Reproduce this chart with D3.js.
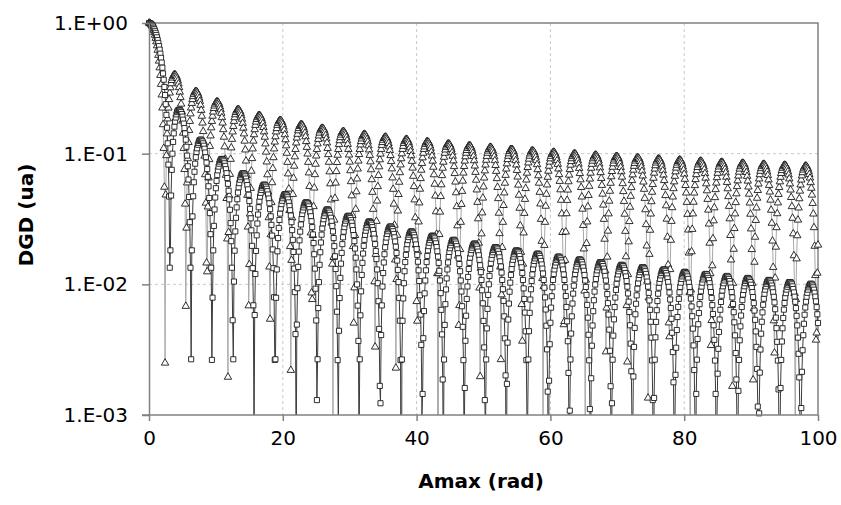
<!DOCTYPE html>
<html lang="en">
<head>
<meta charset="UTF-8">
<title>DGD vs Amax</title>
<script src="https://d3js.org/d3.v7.min.js"></script>
<style>
  body { margin: 0; background: #fff; }
  text { font-family: "DejaVu Sans", sans-serif; fill: #000; }
</style>
</head>
<body>
<script>
// Amax sampling (rad): 0 to 100 every 0.1
// the *Even arrays hold Amax = 0, 0.2, 0.4 ... 100, the *Odd arrays Amax = 0.1, 0.3 ... 99.9
var amaxStep = 0.1, amaxCount = 1001;
var amax = d3.range(amaxCount).map(function (i) { return +(i * amaxStep).toFixed(1); });

var xTicks = [0, 20, 40, 60, 80, 100];
var yTicks = [1, 0.1, 0.01, 0.001];
var yTickLabels = ["1.E+00", "1.E-01", "1.E-02", "1.E-03"];

// triangle series
var triEven = [
  1, 0.990, 0.960, 0.912, 0.846, 0.765, 0.671, 0.567, 0.455, 0.340, 0.224, 0.110, 0.0025, 0.0968, 0.185, 0.260,
  0.320, 0.364, 0.392, 0.403, 0.397, 0.377, 0.342, 0.296, 0.240, 0.178, 0.110, 0.0412, 0.0270, 0.0917, 0.151,
  0.202, 0.243, 0.274, 0.293, 0.300, 0.295, 0.279, 0.252, 0.215, 0.172, 0.122, 0.0692, 0.0146, 0.0392, 0.0903,
  0.137, 0.177, 0.209, 0.232, 0.246,
  0.250, 0.244, 0.228, 0.204, 0.172, 0.134, 0.0910, 0.0455,
  0.00195, 0.0477, 0.0907, 0.129, 0.162, 0.189, 0.207, 0.217, 0.218, 0.210, 0.195, 0.171, 0.142, 0.107, 0.0683, 0.0275,
  0.0142, 0.0544, 0.0919, 0.125, 0.153, 0.175, 0.189, 0.196, 0.195, 0.186, 0.170, 0.147, 0.119, 0.0866, 0.0509, 0.0136,
  0.0240, 0.0601, 0.0934, 0.123, 0.147, 0.165, 0.176, 0.180, 0.177, 0.167, 0.151, 0.128, 0.101, 0.0702, 0.0368, 0.00220,
  0.0323, 0.0650, 0.0948, 0.121, 0.141, 0.156, 0.165, 0.167, 0.163, 0.152, 0.135, 0.112, 0.0860, 0.0563, 0.0248,
  0.00767, 0.0394, 0.0693, 0.0962, 0.119, 0.137, 0.150, 0.156, 0.156, 0.150, 0.138, 0.121, 0.0986, 0.0728, 0.0444, 0.0143,
  0.0161, 0.0456, 0.0731, 0.0975, 0.118, 0.133, 0.144, 0.148, 0.146, 0.139, 0.126, 0.108, 0.0864, 0.0612, 0.0337, 0.00506,
  0.0237, 0.0512, 0.0765, 0.0987, 0.117, 0.130, 0.138, 0.141, 0.138, 0.129, 0.115, 0.0973, 0.0755, 0.0507, 0.0241,
  0.00332, 0.0304, 0.0561, 0.0795, 0.0995, 0.116, 0.127, 0.133, 0.134, 0.129, 0.120, 0.106, 0.0872, 0.0654, 0.0412, 0.0154,
  0.0109, 0.0365, 0.0606, 0.0822, 0.100, 0.114, 0.124, 0.128, 0.128, 0.122, 0.111, 0.0965, 0.0778, 0.0561, 0.0324, 0.00740,
  0.0178, 0.0421, 0.0646, 0.0844, 0.101, 0.113, 0.121, 0.124, 0.122, 0.115, 0.103, 0.0879, 0.0691, 0.0475, 0.0242,
  0.00002, 0.0241, 0.0471, 0.0681, 0.0863, 0.101, 0.112, 0.118, 0.119, 0.116, 0.108, 0.0957, 0.0798, 0.0608, 0.0394, 0.0165,
  0.00689, 0.0299, 0.0516, 0.0712, 0.0879, 0.101, 0.110, 0.115, 0.115, 0.110, 0.101, 0.0885, 0.0721, 0.0529, 0.0318, 0.00939,
  0.0133, 0.0353, 0.0558, 0.0740, 0.0893, 0.101, 0.108, 0.112, 0.110, 0.105, 0.0949, 0.0814, 0.0646, 0.0454, 0.0245, 0.00266,
  0.0192, 0.0402, 0.0596, 0.0765, 0.0903, 0.100, 0.107, 0.108, 0.106, 0.0992, 0.0886, 0.0746, 0.0576, 0.0383, 0.0176,
  0.00368, 0.0248, 0.0448, 0.0630, 0.0786, 0.0910, 0.0998, 0.105, 0.105, 0.102, 0.0939, 0.0826, 0.0679, 0.0507, 0.0315, 0.0111,
  0.00965, 0.0299, 0.0490, 0.0661, 0.0804, 0.0915, 0.0989, 0.102, 0.102, 0.0971, 0.0886, 0.0765, 0.0615, 0.0441, 0.0250, 0.00492,
  0.0153, 0.0348, 0.0528, 0.0687, 0.0819, 0.0917, 0.0978, 0.100, 0.0983, 0.0926, 0.0833, 0.0706, 0.0552, 0.0377, 0.0187,
  0.00099, 0.0206, 0.0393, 0.0564, 0.0711, 0.0831, 0.0916, 0.0965, 0.0975, 0.0947, 0.0881, 0.0780, 0.0648, 0.0491, 0.0315, 0.0127,
  0.00660, 0.0256, 0.0434, 0.0595, 0.0732, 0.0839, 0.0913, 0.0950, 0.0949, 0.0910, 0.0835, 0.0728, 0.0591, 0.0432, 0.0255, 0.00689,
  0.0119, 0.0303, 0.0473, 0.0624, 0.0750, 0.0845, 0.0907, 0.0933, 0.0922, 0.0873, 0.0790, 0.0676, 0.0535, 0.0373, 0.0197, 0.00135,
  0.0170, 0.0346, 0.0508, 0.0650, 0.0765, 0.0850, 0.0899, 0.0914, 0.0892, 0.0835, 0.0743, 0.0624, 0.0479, 0.0316, 0.0141,
  0.00398, 0.0218, 0.0387, 0.0541, 0.0673, 0.0777, 0.0850, 0.0890, 0.0893, 0.0861, 0.0795, 0.0698, 0.0572, 0.0425, 0.0261, 0.00865,
  0.00907, 0.0264, 0.0426, 0.0571, 0.0693, 0.0786, 0.0849, 0.0877, 0.0870, 0.0829, 0.0755, 0.0651, 0.0521, 0.0371, 0.0207, 0.00341,
  0.0139, 0.0307, 0.0462, 0.0597, 0.0709, 0.0793, 0.0844, 0.0862, 0.0846, 0.0795, 0.0714, 0.0604, 0.0470, 0.0318, 0.0154,
  0.00166, 0.0186, 0.0347, 0.0494, 0.0621, 0.0724, 0.0797, 0.0838, 0.0846, 0.0820, 0.0761, 0.0672, 0.0557, 0.0420, 0.0266, 0.0102,
  0.00652, 0.0230, 0.0385, 0.0524, 0.0642, 0.0735, 0.0798, 0.0829, 0.0827, 0.0792, 0.0725, 0.0630, 0.0510, 0.0370, 0.0215, 0.00527,
  0.0112, 0.0272, 0.0421, 0.0552, 0.0661, 0.0744, 0.0797, 0.0818, 0.0807, 0.0763, 0.0689, 0.0588, 0.0463, 0.0321, 0.0166, 0.00043,
  0.0157, 0.0311, 0.0453, 0.0577, 0.0678, 0.0751, 0.0794, 0.0805, 0.0784, 0.0733, 0.0652, 0.0545, 0.0417, 0.0272, 0.0117,
  0.00425, 0.0200
];
var triOdd = [
  0.998, 0.978, 0.939, 0.881, 0.808, 0.720, 0.620, 0.512, 0.398, 0.282, 0.167, 0.0555, 0.0484, 0.142, 0.224, 0.292,
  0.344, 0.380, 0.399, 0.402, 0.389, 0.361, 0.321, 0.269, 0.210, 0.144, 0.0758, 0.0068, 0.0599, 0.122, 0.177,
  0.224, 0.260, 0.285, 0.298, 0.299, 0.288, 0.266, 0.235, 0.194, 0.148, 0.0960, 0.0419, 0.0125, 0.0653, 0.114,
  0.158, 0.194, 0.222, 0.240,
  0.249, 0.248, 0.237, 0.217, 0.189, 0.153, 0.113, 0.0685, 0.0223,
  0.0250, 0.0696, 0.111, 0.147, 0.177, 0.199, 0.213, 0.218, 0.215, 0.204, 0.184, 0.157, 0.125, 0.0880, 0.0481, 0.00686,
  0.0346, 0.0736, 0.109, 0.140, 0.165, 0.183, 0.194, 0.196, 0.191, 0.179, 0.159, 0.134, 0.103, 0.0691, 0.0324,
  0.00542, 0.0423, 0.0771, 0.109, 0.135, 0.156, 0.171, 0.179, 0.180, 0.173, 0.160, 0.140, 0.115, 0.0860, 0.0537, 0.0195,
  0.0153, 0.0489, 0.0804, 0.108, 0.132, 0.150, 0.162, 0.167, 0.166, 0.158, 0.144, 0.124, 0.0996, 0.0714, 0.0407, 0.00861,
  0.0237, 0.0547, 0.0832, 0.108, 0.129, 0.144, 0.154, 0.157, 0.154, 0.145, 0.130, 0.110, 0.0861, 0.0589, 0.0295,
  0.00099, 0.0311, 0.0597, 0.0858, 0.108, 0.126, 0.139, 0.146, 0.148, 0.143, 0.133, 0.118, 0.0979, 0.0742, 0.0477, 0.0195,
  0.00942, 0.0376, 0.0642, 0.0880, 0.108, 0.124, 0.135, 0.140, 0.140, 0.134, 0.123, 0.107, 0.0868, 0.0634, 0.0376, 0.0105,
  0.0170, 0.0435, 0.0682, 0.0900, 0.108, 0.122, 0.131, 0.134, 0.132, 0.125, 0.113, 0.0969, 0.0767, 0.0535, 0.0284, 0.00229,
  0.0238, 0.0488, 0.0717, 0.0916, 0.108, 0.120, 0.127, 0.129, 0.125, 0.117, 0.104, 0.0876, 0.0673, 0.0444, 0.0200,
  0.00524, 0.0301, 0.0536, 0.0749, 0.0931, 0.108, 0.118, 0.123, 0.123, 0.119, 0.110, 0.0961, 0.0789, 0.0585, 0.0360, 0.0121,
  0.0121, 0.0358, 0.0579, 0.0776, 0.0941, 0.107, 0.115, 0.119, 0.118, 0.112, 0.102, 0.0882, 0.0706, 0.0503, 0.0281, 0.00486,
  0.0185, 0.0410, 0.0618, 0.0800, 0.0949, 0.106, 0.113, 0.115, 0.113, 0.106, 0.0953, 0.0806, 0.0628, 0.0425, 0.0207,
  0.00197, 0.0244, 0.0458, 0.0653, 0.0821, 0.0955, 0.105, 0.111, 0.112, 0.108, 0.100, 0.0886, 0.0734, 0.0553, 0.0351, 0.0136,
  0.00833, 0.0299, 0.0502, 0.0684, 0.0838, 0.0958, 0.104, 0.108, 0.108, 0.103, 0.0944, 0.0820, 0.0664, 0.0482, 0.0281, 0.00702,
  0.0143, 0.0350, 0.0542, 0.0711, 0.0852, 0.0959, 0.103, 0.105, 0.104, 0.0981, 0.0886, 0.0756, 0.0596, 0.0413, 0.0214, 0.00074,
  0.0199, 0.0397, 0.0578, 0.0736, 0.0864, 0.0956, 0.101, 0.103, 0.0999, 0.0932, 0.0830, 0.0693, 0.0530, 0.0347, 0.0150,
  0.00521, 0.0252, 0.0440, 0.0611, 0.0757, 0.0872, 0.0952, 0.0994, 0.0997, 0.0959, 0.0884, 0.0773, 0.0632, 0.0467, 0.0283, 0.00890,
  0.0108, 0.0301, 0.0480, 0.0641, 0.0775, 0.0878, 0.0945, 0.0975, 0.0967, 0.0918, 0.0835, 0.0717, 0.0573, 0.0405, 0.0222, 0.00305,
  0.0162, 0.0347, 0.0517, 0.0667, 0.0789, 0.0881, 0.0937, 0.0954, 0.0935, 0.0878, 0.0785, 0.0663, 0.0514, 0.0345, 0.0163,
  0.00255, 0.0212, 0.0390, 0.0551, 0.0690, 0.0802, 0.0881, 0.0924, 0.0932, 0.0902, 0.0836, 0.0736, 0.0608, 0.0456, 0.0287, 0.0106,
  0.00788, 0.0260, 0.0430, 0.0582, 0.0711, 0.0811, 0.0879, 0.0912, 0.0907, 0.0867, 0.0793, 0.0687, 0.0554, 0.0400, 0.0230, 0.00508,
  0.0130, 0.0304, 0.0467, 0.0610, 0.0728, 0.0817, 0.0874, 0.0896, 0.0882, 0.0832, 0.0750, 0.0638, 0.0501, 0.0344, 0.0174,
  0.00021, 0.0178, 0.0347, 0.0501, 0.0635, 0.0743, 0.0822, 0.0867, 0.0878, 0.0854, 0.0796, 0.0706, 0.0589, 0.0448, 0.0290, 0.0121,
  0.00530, 0.0224, 0.0386, 0.0532, 0.0657, 0.0755, 0.0823, 0.0858, 0.0858, 0.0825, 0.0759, 0.0662, 0.0540, 0.0396, 0.0237, 0.00689,
  0.0102, 0.0268, 0.0423, 0.0561, 0.0676, 0.0764, 0.0821, 0.0846, 0.0837, 0.0794, 0.0720, 0.0618, 0.0491, 0.0345, 0.0185, 0.00186,
  0.0148, 0.0309, 0.0457, 0.0587, 0.0692, 0.0770, 0.0818, 0.0832, 0.0813, 0.0762, 0.0682, 0.0573, 0.0442, 0.0294, 0.0135,
  0.00299, 0.0193, 0.0348, 0.0489, 0.0610, 0.0707, 0.0775, 0.0812, 0.0816, 0.0788, 0.0729, 0.0642, 0.0528, 0.0394, 0.0244, 0.00853,
  0.00767, 0.0236, 0.0385, 0.0518, 0.0630, 0.0717, 0.0776, 0.0804, 0.0799, 0.0762, 0.0695, 0.0601, 0.0483, 0.0346, 0.0196, 0.00375,
  0.0122
];

// square series
var sqEven = [
  1, 0.993, 0.974, 0.941, 0.897, 0.841, 0.777, 0.704, 0.625, 0.541, 0.455, 0.368, 0.281, 0.198, 0.120, 0.0470,
  0.0182, 0.0752, 0.123, 0.161, 0.189, 0.208, 0.216, 0.216, 0.208, 0.192, 0.170, 0.143, 0.113, 0.0801, 0.0466, 0.0134,
  0.0182, 0.0472, 0.0727, 0.0939, 0.110, 0.121, 0.127, 0.128, 0.124, 0.115, 0.102, 0.0854, 0.0665, 0.0458, 0.0242, 0.00264,
  0.0182, 0.0374, 0.0544, 0.0686, 0.0796, 0.0870, 0.0908, 0.0909, 0.0874, 0.0806, 0.0709, 0.0588, 0.0447, 0.0294, 0.0134,
  0.00267, 0.0181, 0.0323, 0.0448, 0.0553, 0.0632, 0.0684, 0.0708, 0.0703, 0.0671, 0.0613, 0.0533, 0.0434, 0.0320, 0.0197, 0.00691,
  0.00582, 0.0180, 0.0292, 0.0389, 0.0469, 0.0528, 0.0566, 0.0580, 0.0571, 0.0539, 0.0487, 0.0417, 0.0332, 0.0236, 0.0133, 0.00264,
  0.00789, 0.0179, 0.0270, 0.0348, 0.0411, 0.0456, 0.0483, 0.0490, 0.0478, 0.0447, 0.0398, 0.0336, 0.0260, 0.0177, 0.00872,
  0.000402, 0.00934, 0.0178, 0.0253, 0.0317, 0.0368, 0.0403, 0.0422, 0.0423, 0.0408, 0.0377, 0.0332, 0.0274, 0.0207, 0.0132, 0.00529,
  0.00267, 0.0104, 0.0176, 0.0240, 0.0293, 0.0334, 0.0362, 0.0374, 0.0371, 0.0354, 0.0323, 0.0280, 0.0226, 0.0164, 0.00968, 0.00263,
  0.00441, 0.0112, 0.0174, 0.0229, 0.0274, 0.0307, 0.0328, 0.0335, 0.0329, 0.0310, 0.0280, 0.0238, 0.0188, 0.0130, 0.00687, 0.000506,
  0.00579, 0.0118, 0.0172, 0.0219, 0.0257, 0.0284, 0.0300, 0.0303, 0.0294, 0.0274, 0.0243, 0.0203, 0.0156, 0.0102, 0.00456,
  0.00123, 0.00690, 0.0122, 0.0170, 0.0211, 0.0243, 0.0264, 0.0276, 0.0276, 0.0265, 0.0243, 0.0213, 0.0174, 0.0129, 0.00788, 0.00263,
  0.00266, 0.00780, 0.0126, 0.0168, 0.0203, 0.0230, 0.0247, 0.0254, 0.0252, 0.0239, 0.0217, 0.0186, 0.0149, 0.0106, 0.00587, 0.000998,
  0.00387, 0.00853, 0.0128, 0.0165, 0.0196, 0.0218, 0.0232, 0.0236, 0.0231, 0.0216, 0.0193, 0.0163, 0.0127, 0.00856, 0.00414,
  0.000402, 0.00489, 0.00914, 0.0130, 0.0163, 0.0189, 0.0208, 0.0218, 0.0219, 0.0212, 0.0196, 0.0173, 0.0143, 0.0107, 0.00680, 0.00263,
  0.00161, 0.00575, 0.00963, 0.0131, 0.0160, 0.0183, 0.0198, 0.0205, 0.0204, 0.0195, 0.0178, 0.0154, 0.0124, 0.00901, 0.00525, 0.00130,
  0.00266, 0.00649, 0.0100, 0.0131, 0.0157, 0.0176, 0.0188, 0.0193, 0.0190, 0.0179, 0.0161, 0.0137, 0.0108, 0.00747, 0.00386, 0.000133,
  0.00358, 0.00712, 0.0103, 0.0131, 0.0154, 0.0170, 0.0180, 0.0182, 0.0177, 0.0165, 0.0146, 0.0122, 0.00931, 0.00608, 0.00263,
  0.000906, 0.00438, 0.00765, 0.0106, 0.0131, 0.0151, 0.0164, 0.0171, 0.0171, 0.0165, 0.0151, 0.0132, 0.0108, 0.00795, 0.00482, 0.00151,
  0.00183, 0.00508, 0.00811, 0.0108, 0.0130, 0.0147, 0.0158, 0.0163, 0.0161, 0.0153, 0.0139, 0.0119, 0.00950, 0.00671, 0.00367, 0.000508,
  0.00266, 0.00569, 0.00849, 0.0109, 0.0129, 0.0144, 0.0153, 0.0155, 0.0152, 0.0142, 0.0127, 0.0107, 0.00830, 0.00556, 0.00262,
  0.000402, 0.00339, 0.00623, 0.00880, 0.0110, 0.0128, 0.0140, 0.0147, 0.0148, 0.0143, 0.0132, 0.0116, 0.00959, 0.00718, 0.00450, 0.00166,
  0.00123, 0.00405, 0.00670, 0.00906, 0.0111, 0.0126, 0.0136, 0.0141, 0.0140, 0.0134, 0.0122, 0.0106, 0.00852, 0.00614, 0.00352, 0.000784,
  0.00197, 0.00464, 0.00710, 0.00927, 0.0111, 0.0124, 0.0132, 0.0135, 0.0133, 0.0126, 0.0113, 0.00960, 0.00753, 0.00517, 0.00262,
  0.0000236, 0.00265, 0.00516, 0.00745, 0.00943, 0.0110, 0.0122, 0.0128, 0.0130, 0.0126, 0.0117, 0.0104, 0.00866, 0.00659, 0.00426, 0.00178,
  0.000766, 0.00327, 0.00562, 0.00774, 0.00955, 0.0110, 0.0119, 0.0124, 0.0124, 0.0119, 0.0110, 0.00955, 0.00778, 0.00570, 0.00341, 0.000996,
  0.00145, 0.00382, 0.00603, 0.00799, 0.00962, 0.0109, 0.0117, 0.0120, 0.0119, 0.0112, 0.0102, 0.00873, 0.00693, 0.00486, 0.00261, 0.000271,
  0.00207, 0.00432, 0.00639, 0.00819, 0.00966, 0.0107, 0.0114, 0.0116, 0.0113, 0.0106, 0.00945, 0.00794, 0.00612, 0.00407, 0.00187,
  0.000402, 0.00264, 0.00477, 0.00670, 0.00835, 0.00967, 0.0106, 0.0111, 0.0111, 0.0107, 0.00993, 0.00873, 0.00718, 0.00535, 0.00332, 0.00116,
  0.00103, 0.00317, 0.00517, 0.00697, 0.00847, 0.00964, 0.0104, 0.0108, 0.0107, 0.0102, 0.00930, 0.00803, 0.00645, 0.00462, 0.00261, 0.000507,
  0.00161, 0.00365, 0.00553, 0.00719, 0.00856, 0.00958, 0.0102, 0.0104, 0.0102, 0.00965, 0.00867, 0.00735, 0.00574, 0.00391, 0.00194,
  0.000109, 0.00214, 0.00408, 0.00585, 0.00738, 0.00861, 0.00949, 0.00999, 0.0101, 0.00979, 0.00910, 0.00805, 0.00669, 0.00506
];
var sqOdd = [
  0.998, 0.985, 0.959, 0.920, 0.870, 0.810, 0.741, 0.665, 0.583, 0.498, 0.411, 0.324, 0.239, 0.158, 0.0825, 0.0134,
  0.0478, 0.100, 0.143, 0.176, 0.200, 0.213, 0.217, 0.213, 0.201, 0.182, 0.157, 0.128, 0.0966, 0.0634, 0.0299,
  0.00267, 0.0331, 0.0604, 0.0838, 0.103, 0.117, 0.125, 0.128, 0.126, 0.120, 0.109, 0.0939, 0.0762, 0.0563, 0.0351, 0.0134,
  0.00791, 0.0280, 0.0462, 0.0619, 0.0745, 0.0838, 0.0894, 0.0913, 0.0896, 0.0844, 0.0761, 0.0651, 0.0520, 0.0372, 0.0214, 0.00531,
  0.0105, 0.0254, 0.0388, 0.0504, 0.0595, 0.0661, 0.0699, 0.0709, 0.0690, 0.0645, 0.0575, 0.0485, 0.0378, 0.0259, 0.0133, 0.000510,
  0.0120, 0.0237, 0.0342, 0.0431, 0.0501, 0.0550, 0.0576, 0.0578, 0.0558, 0.0516, 0.0454, 0.0376, 0.0285, 0.0185, 0.00797,
  0.00267, 0.0130, 0.0226, 0.0311, 0.0381, 0.0436, 0.0472, 0.0489, 0.0486, 0.0464, 0.0424, 0.0369, 0.0299, 0.0219, 0.0132, 0.00416,
  0.00492, 0.0136, 0.0217, 0.0287, 0.0345, 0.0388, 0.0415, 0.0425, 0.0418, 0.0395, 0.0356, 0.0304, 0.0241, 0.0170, 0.00926, 0.00130,
  0.00658, 0.0141, 0.0209, 0.0268, 0.0315, 0.0350, 0.0370, 0.0375, 0.0365, 0.0340, 0.0303, 0.0254, 0.0196, 0.0131, 0.00617,
  0.000908, 0.00785, 0.0144, 0.0203, 0.0253, 0.0292, 0.0319, 0.0333, 0.0334, 0.0322, 0.0297, 0.0260, 0.0214, 0.0160, 0.00999, 0.00369,
  0.00267, 0.00884, 0.0146, 0.0197, 0.0239, 0.0272, 0.0293, 0.0303, 0.0300, 0.0286, 0.0260, 0.0224, 0.0180, 0.0130, 0.00743, 0.00167,
  0.00409, 0.00962, 0.0147, 0.0192, 0.0228, 0.0255, 0.0271, 0.0277, 0.0271, 0.0255, 0.0229, 0.0194, 0.0152, 0.0104, 0.00527,
  0.0000236, 0.00526, 0.0102, 0.0148, 0.0186, 0.0218, 0.0240, 0.0252, 0.0254, 0.0246, 0.0229, 0.0202, 0.0168, 0.0128, 0.00825, 0.00344,
  0.00145, 0.00624, 0.0107, 0.0148, 0.0182, 0.0208, 0.0226, 0.0235, 0.0234, 0.0225, 0.0206, 0.0179, 0.0146, 0.0107, 0.00638, 0.00187,
  0.00266, 0.00705, 0.0111, 0.0147, 0.0177, 0.0199, 0.0214, 0.0219, 0.0216, 0.0205, 0.0185, 0.0158, 0.0126, 0.00881, 0.00473, 0.000507,
  0.00370, 0.00773, 0.0114, 0.0146, 0.0172, 0.0191, 0.0202, 0.0205, 0.0200, 0.0187, 0.0167, 0.0140, 0.0108, 0.00716, 0.00329,
  0.000686, 0.00460, 0.00830, 0.0116, 0.0145, 0.0168, 0.0183, 0.0192, 0.0192, 0.0185, 0.0171, 0.0150, 0.0123, 0.00918, 0.00569, 0.00201,
  0.00173, 0.00538, 0.00878, 0.0118, 0.0143, 0.0163, 0.0176, 0.0182, 0.0180, 0.0172, 0.0156, 0.0135, 0.0108, 0.00773, 0.00437, 0.000862,
  0.00266, 0.00605, 0.00917, 0.0119, 0.0142, 0.0158, 0.0169, 0.0172, 0.0169, 0.0159, 0.0142, 0.0121, 0.00942, 0.00642, 0.00318,
  0.000163, 0.00348, 0.00663, 0.00950, 0.0120, 0.0139, 0.0154, 0.0162, 0.0163, 0.0158, 0.0147, 0.0130, 0.0108, 0.00814, 0.00521, 0.00210,
  0.00108, 0.00420, 0.00713, 0.00976, 0.0120, 0.0137, 0.0149, 0.0155, 0.0154, 0.0148, 0.0135, 0.0118, 0.00955, 0.00696, 0.00411, 0.00111,
  0.00191, 0.00484, 0.00756, 0.00996, 0.0120, 0.0135, 0.0144, 0.0148, 0.0146, 0.0138, 0.0125, 0.0107, 0.00842, 0.00587, 0.00310, 0.000217,
  0.00265, 0.00540, 0.00792, 0.0101, 0.0119, 0.0132, 0.0139, 0.0141, 0.0138, 0.0129, 0.0115, 0.00960, 0.00737, 0.00486, 0.00216,
  0.000600, 0.00332, 0.00590, 0.00823, 0.0102, 0.0118, 0.0129, 0.0135, 0.0135, 0.0130, 0.0120, 0.0105, 0.00861, 0.00638, 0.00391, 0.00130,
  0.00135, 0.00393, 0.00634, 0.00848, 0.0103, 0.0117, 0.0126, 0.0130, 0.0129, 0.0122, 0.0111, 0.00958, 0.00766, 0.00545, 0.00303, 0.000507,
  0.00203, 0.00447, 0.00672, 0.00869, 0.0103, 0.0115, 0.0122, 0.0125, 0.0122, 0.0115, 0.0103, 0.00870, 0.00677, 0.00458, 0.00221,
  0.000228, 0.00265, 0.00495, 0.00705, 0.00885, 0.0103, 0.0113, 0.0119, 0.0120, 0.0116, 0.0108, 0.00950, 0.00787, 0.00593, 0.00376, 0.00145,
  0.000906, 0.00321, 0.00538, 0.00733, 0.00897, 0.0102, 0.0111, 0.0115, 0.0115, 0.0110, 0.0101, 0.00873, 0.00707, 0.00512, 0.00298, 0.000735,
  0.00153, 0.00373, 0.00577, 0.00757, 0.00905, 0.0102, 0.0109, 0.0112, 0.0110, 0.0104, 0.00937, 0.00799, 0.00630, 0.00436, 0.00225, 0.000068,
  0.00211, 0.00419, 0.00610, 0.00776, 0.00910, 0.0101, 0.0106, 0.0108, 0.0105, 0.00979, 0.00870, 0.00727, 0.00556, 0.00363, 0.00157,
  0.000554, 0.00264, 0.00461, 0.00640, 0.00792, 0.00912, 0.00994, 0.0104, 0.0104, 0.0100, 0.00920, 0.00805, 0.00658, 0.00485, 0.00294, 0.000918,
  0.00113, 0.00313, 0.00499, 0.00665, 0.00804, 0.00910, 0.00979, 0.0101, 0.00999, 0.00949, 0.00862, 0.00741, 0.00590
];

var width = 841, height = 505;
var plotLeft = 149, plotRight = 818, plotTop = 23, plotBottom = 415;

var svg = d3.select("body").append("svg")
    .attr("width", width)
    .attr("height", height);

var x = d3.scaleLinear().domain([0, 100]).range([plotLeft, plotRight]);
var y = d3.scaleLog().domain([0.001, 1]).range([plotBottom, plotTop]);

svg.append("defs").append("clipPath").attr("id", "plot")
  .append("rect")
    .attr("x", plotLeft).attr("y", plotTop)
    .attr("width", plotRight - plotLeft).attr("height", plotBottom - plotTop);

// grid
svg.append("g")
    .selectAll("line")
    .data(yTicks.slice(1, 3))
    .enter().append("line")
    .attr("x1", plotLeft).attr("x2", plotRight)
    .attr("y1", function (d) { return y(d); })
    .attr("y2", function (d) { return y(d); })
    .attr("stroke", "#c8c8c8")
    .attr("stroke-dasharray", "3,3");

svg.append("g")
    .selectAll("line")
    .data(xTicks.slice(1, 5))
    .enter().append("line")
    .attr("x1", function (d) { return x(d); })
    .attr("x2", function (d) { return x(d); })
    .attr("y1", plotTop).attr("y2", plotBottom)
    .attr("stroke", "#c8c8c8")
    .attr("stroke-dasharray", "3,3");

// frame top/right
svg.append("path")
    .attr("d", "M" + plotLeft + "," + plotTop + "H" + plotRight + "V" + plotBottom)
    .attr("fill", "none")
    .attr("stroke", "#808080")
    .attr("stroke-width", 1.5);

// merge the two interleaved arrays onto the 0.1 grid
function toPoints(even, odd) {
  var pts = [];
  for (var i = 0; i < amax.length; i++) {
    var v = (i % 2 === 0) ? even[i / 2] : odd[(i - 1) / 2];
    if (v !== undefined) pts.push({ a: amax[i], v: v });
  }
  return pts;
}

var triPts = toPoints(triEven, triOdd);
var sqPts = toPoints(sqEven, sqOdd);

var line = d3.line()
    .x(function (d) { return x(d.a); })
    .y(function (d) { return y(d.v); });

var plot = svg.append("g").attr("clip-path", "url(#plot)");

function drawSeries(pts, lineColor, symbolType, symbolSize) {
  plot.append("path")
      .datum(pts)
      .attr("d", line)
      .attr("fill", "none")
      .attr("stroke", lineColor)
      .attr("stroke-width", 1);

  svg.append("g")
      .selectAll("path")
      .data(pts.filter(function (d) { return d.v >= 0.001; }))
      .enter().append("path")
      .attr("transform", function (d) { return "translate(" + x(d.a) + "," + y(d.v) + ")"; })
      .attr("d", d3.symbol().type(symbolType).size(symbolSize))
      .attr("fill", "#fff")
      .attr("stroke", "#1a1a1a")
      .attr("stroke-width", 0.9);
}

drawSeries(triPts, "#a8a8a8", d3.symbolTriangle, 24);
drawSeries(sqPts, "#3c3c3c", d3.symbolSquare, 26);

// axes
var xAxis = svg.append("g")
    .attr("transform", "translate(0," + plotBottom + ")")
    .call(d3.axisBottom(x).tickValues(xTicks).tickSize(6).tickSizeOuter(0).tickPadding(10));
var yAxis = svg.append("g")
    .attr("transform", "translate(" + plotLeft + ",0)")
    .call(d3.axisLeft(y).tickValues(yTicks).tickSize(7).tickSizeOuter(0).tickPadding(14)
      .tickFormat(function (d, i) { return yTickLabels[i]; }));

[xAxis, yAxis].forEach(function (g) {
  g.select(".domain").attr("stroke", "#808080").attr("stroke-width", 1.5);
  g.selectAll(".tick line").attr("stroke", "#808080").attr("stroke-width", 1.5);
  g.selectAll(".tick text").attr("font-size", 20).attr("font-family", "DejaVu Sans").attr("fill", "#000");
});
xAxis.select(".domain").attr("d", "M" + (plotLeft - 7) + ",0H" + plotRight);

svg.append("text")
    .attr("x", 481)
    .attr("y", 488)
    .attr("text-anchor", "middle")
    .attr("font-size", 20)
    .attr("font-weight", "bold")
    .text("Amax (rad)");

svg.append("text")
    .attr("transform", "translate(33," + 215 + ") rotate(-90)")
    .attr("text-anchor", "middle")
    .attr("font-size", 20)
    .attr("font-weight", "bold")
    .text("DGD (ua)");
</script>
</body>
</html>
